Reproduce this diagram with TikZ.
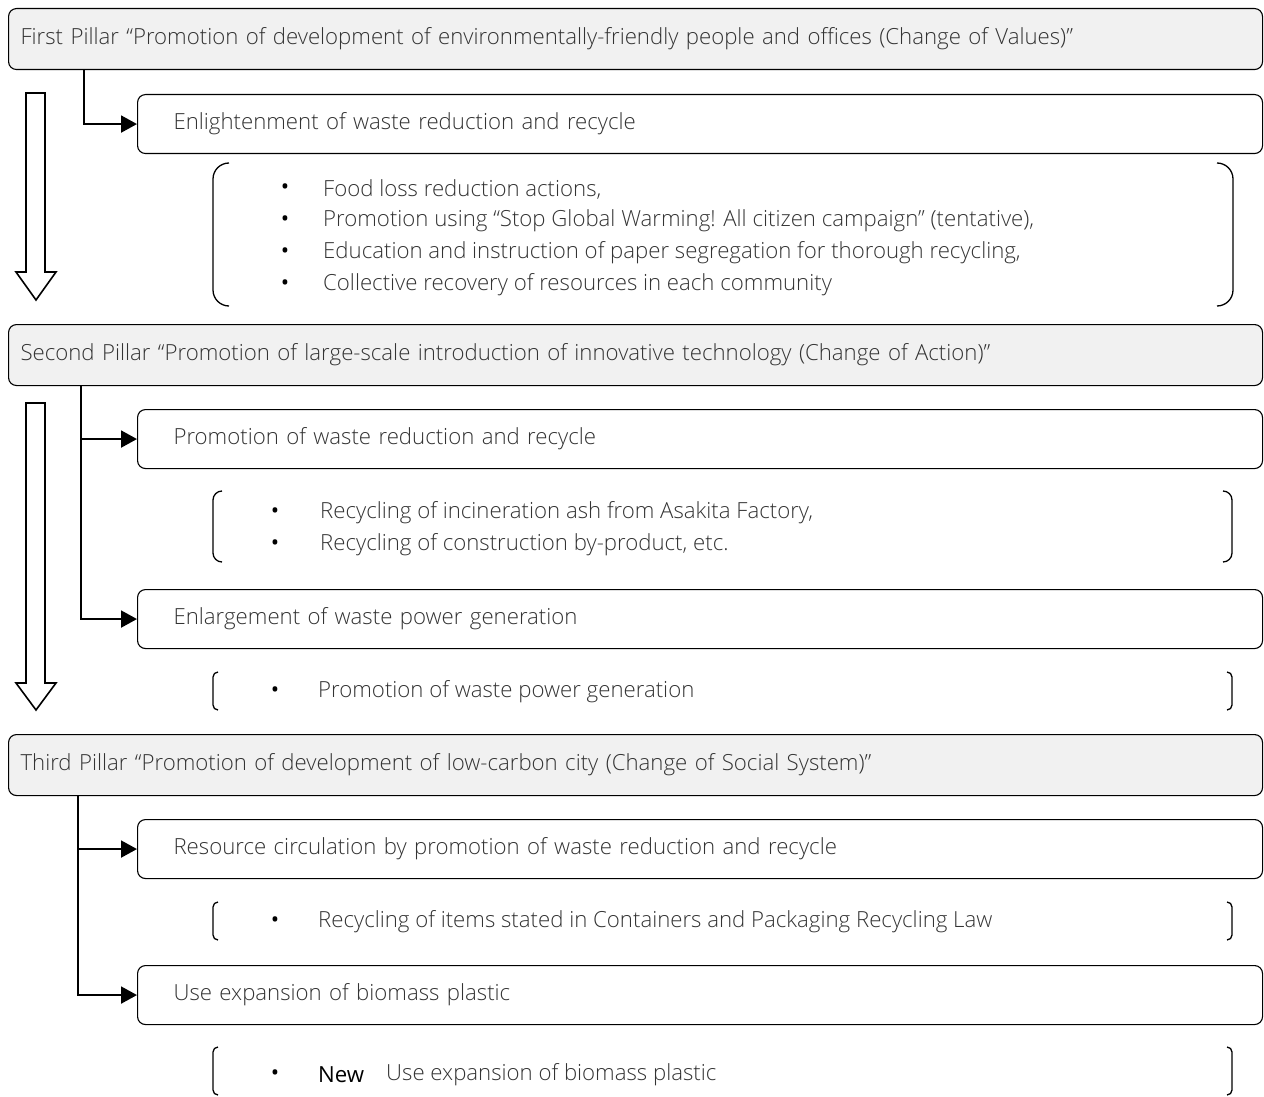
\documentclass[tikz,border=0pt]{standalone}
\usepackage{fontspec}
\IfFontExistsTF{Open Sans Light}{\setmainfont{Open Sans Light}}{\setmainfont{Open Sans}}
\newfontfamily\regfont{Open Sans}
\usetikzlibrary{arrows.meta}
\definecolor{txt}{HTML}{333333}
\definecolor{pfill}{HTML}{F1F1F1}
\newcommand{\fsz}{\fontsize{22.2}{26}\selectfont}
\tikzset{
  pillarbox/.style={draw=black, line width=1.1pt, rounded corners=8pt, fill=pfill, anchor=north west,
    minimum height=61pt, text width=1230pt, inner xsep=12pt, align=left, text=txt, font=\fsz},
  subbox/.style={draw=black, line width=1.1pt, rounded corners=8pt, fill=white, anchor=north west,
    minimum height=59pt, text width=1053pt, inner xsep=36pt, align=left, text=txt, font=\fsz},
  item/.style={anchor=west, inner sep=0pt, text=txt, font=\fsz},
  bul/.style={anchor=center, inner sep=0pt, text=black, font=\regfont\fsz},
  conn/.style={line width=2pt, -{Triangle[length=16pt,width=17pt]}},
  hollow/.style={draw=black, line width=1.6pt, fill=white, line join=miter},
  brack/.style={line width=1.3pt},
}
\begin{document}
\begin{tikzpicture}[x=1pt,y=-1pt]
\useasboundingbox (0,0) rectangle (1264,1097);

% hollow arrows
\draw[hollow] (26,93) -- (26,272) -- (16,272) -- (36,300) -- (56,272) -- (45,272) -- (45,93) -- cycle;
\draw[hollow] (26,403) -- (26,683) -- (16,683) -- (36,710) -- (56,683) -- (45,683) -- (45,403) -- cycle;

% pillar 1
\node[pillarbox] (p1) at (8,8) {First Pillar “Promotion of development of environmentally-friendly people and offices (Change of Values)”};
\node[subbox] (b1) at (137,94) {Enlightenment of waste reduction and recycle};
\draw[conn] ([xshift=76pt]p1.south west) |- (b1.west);

% bracket group 1
\draw[brack] (229,163) arc[start angle=-90,end angle=-180,radius=16] -- (213,290) arc[start angle=180,end angle=90,radius=16];
\draw[brack] (1217,163) arc[start angle=-90,end angle=0,radius=16] -- (1233,290) arc[start angle=0,end angle=90,radius=16];
\node[bul] (u1) at (285,189) {•};
\node[bul] (u2) at (285,221) {•};
\node[bul] (u3) at (285,253) {•};
\node[bul] (u4) at (285,285) {•};
\node[item] (t1) at (323,189) {Food loss reduction actions,};
\node[item] (t2) at (323,221) {Promotion using “Stop Global Warming! All citizen campaign” (tentative),};
\node[item] (t3) at (323,253) {Education and instruction of paper segregation for thorough recycling,};
\node[item] (t4) at (323,285) {Collective recovery of resources in each community};

% pillar 2
\node[pillarbox] (p2) at (8,324) {Second Pillar “Promotion of large-scale introduction of innovative technology (Change of Action)”};
\node[subbox] (b2) at (137,409) {Promotion of waste reduction and recycle};
\node[subbox] (b3) at (137,589) {Enlargement of waste power generation};
\draw[conn] ([xshift=73pt]p2.south west) |- (b3.west);
\coordinate (j2) at ([xshift=73pt]b2.west -| p2.south west);
\draw[conn] (j2) -- (b2.west);

\draw[brack] (222,491) arc[start angle=-90,end angle=-180,radius=9] -- (213,553) arc[start angle=180,end angle=90,radius=9];
\draw[brack] (1223,491) arc[start angle=-90,end angle=0,radius=9] -- (1232,553) arc[start angle=0,end angle=90,radius=9];
\node[bul] (u5) at (275,513) {•};
\node[bul] (u6) at (275,545) {•};
\node[item] (t5) at (320,513) {Recycling of incineration ash from Asakita Factory,};
\node[item] (t6) at (320,545) {Recycling of construction by-product, etc.};

\draw[brack] (218,672) arc[start angle=-90,end angle=-180,radius=5] -- (213,705) arc[start angle=180,end angle=90,radius=5];
\draw[brack] (1227,672) arc[start angle=-90,end angle=0,radius=5] -- (1232,705) arc[start angle=0,end angle=90,radius=5];
\node[bul] (u7) at (275,692) {•};
\node[item] (t7) at (318,692) {Promotion of waste power generation};

% pillar 3
\node[pillarbox] (p3) at (8,734) {Third Pillar “Promotion of development of low-carbon city (Change of Social System)”};
\node[subbox] (b4) at (137,819) {Resource circulation by promotion of waste reduction and recycle};
\node[subbox] (b5) at (137,965) {Use expansion of biomass plastic};
\draw[conn] ([xshift=70pt]p3.south west) |- (b5.west);
\coordinate (j3) at ([xshift=70pt]b4.west -| p3.south west);
\draw[conn] (j3) -- (b4.west);

\draw[brack] (218,902) arc[start angle=-90,end angle=-180,radius=5] -- (213,935) arc[start angle=180,end angle=90,radius=5];
\draw[brack] (1227,902) arc[start angle=-90,end angle=0,radius=5] -- (1232,935) arc[start angle=0,end angle=90,radius=5];
\node[bul] (u8) at (275,922) {•};
\node[item] (t8) at (318,922) {Recycling of items stated in Containers and Packaging Recycling Law};

\draw[brack] (218,1047) arc[start angle=-90,end angle=-180,radius=5] -- (213,1090) arc[start angle=180,end angle=90,radius=5];
\draw[brack] (1227,1047) arc[start angle=-90,end angle=0,radius=5] -- (1232,1090) arc[start angle=0,end angle=90,radius=5];
\node[bul] (u9) at (275,1075) {•};
\node[item, text=black, font=\regfont\fsz] (n9) at (318,1075) {New};
\node[item] (t9) at (386,1075) {Use expansion of biomass plastic};
\end{tikzpicture}
\end{document}
